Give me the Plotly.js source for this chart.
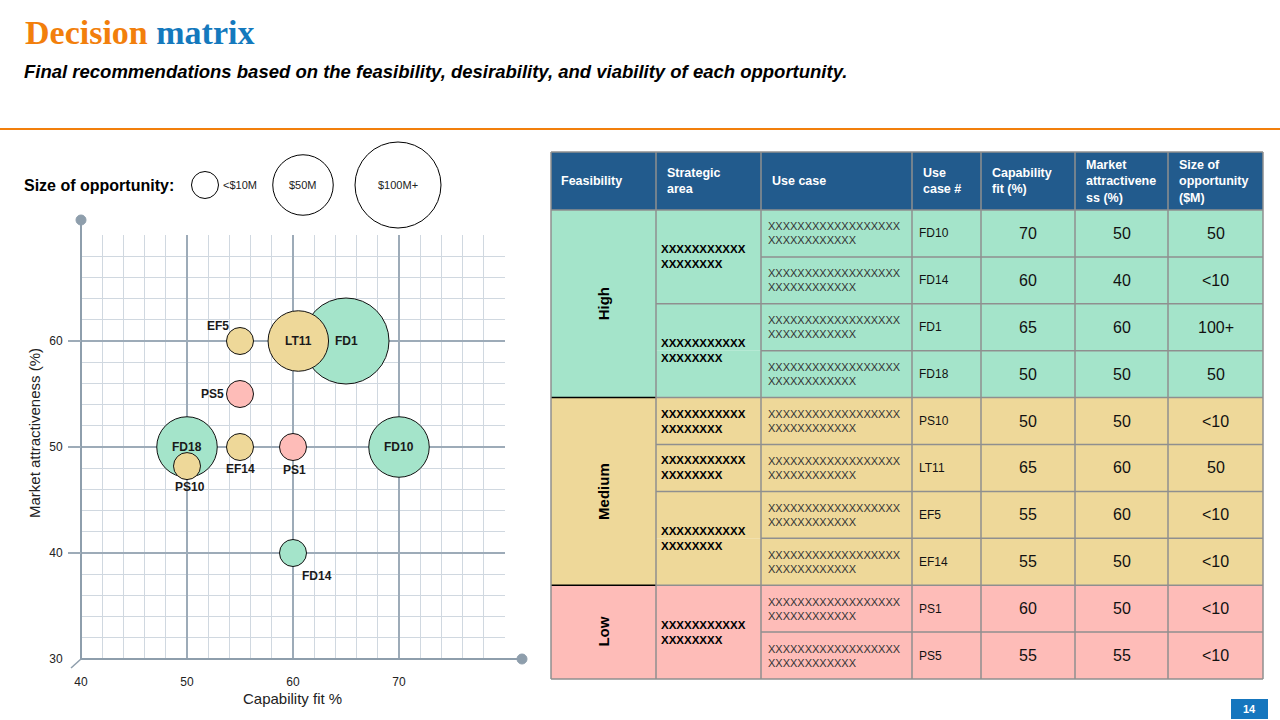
<!DOCTYPE html>
<html>
<head>
<meta charset="utf-8">
<script src="https://cdn.plot.ly/plotly-3.0.1.min.js"></script>
<style>
html,body{margin:0;padding:0;background:#fff;}
#chart{width:1280px;height:720px;}
</style>
</head>
<body>
<div id="chart"></div>
<script>
// ---------------- Bubble chart data (as plotted) ----------------
const bubbleIds         = ['FD1','LT11','FD18','PS10','FD10','EF5','PS5','EF14','PS1','FD14'];
const bubbleCapability  = [65, 60.5, 50, 50, 70, 55, 55, 55, 60, 60];
const bubbleMarket      = [60, 60, 50, 48.2, 50, 60, 55, 50, 50, 40];
const bubbleOpportunity = [100, 50, 50, 10, 50, 10, 10, 10, 10, 10];
const bubbleFeasibility = ['High','Medium','High','Medium','High','Medium','Low','Medium','Low','High'];

const xTickVals = [40, 50, 60, 70];
const yTickVals = [30, 40, 50, 60];

// ---------------- Size legend ----------------
const legendLabels = ['<$10M', '$50M', '$100M+'];
const legendSizes  = [10, 50, 100];

// ---------------- Table data ----------------
const tableHeaders = ['Feasibility', 'Strategic<br>area', 'Use case', 'Use<br>case #',
                      'Capability<br>fit (%)', 'Market<br>attractivene<br>ss (%)', 'Size of<br>opportunity<br>($M)'];
const feasibilityGroups   = ['High', 'Medium', 'Low'];
const feasibilityRowSpans = [4, 4, 2];
const strategicAreas    = ['XXXXXXXXXXX<br>XXXXXXXX','XXXXXXXXXXX<br>XXXXXXXX','XXXXXXXXXXX<br>XXXXXXXX',
                           'XXXXXXXXXXX<br>XXXXXXXX','XXXXXXXXXXX<br>XXXXXXXX','XXXXXXXXXXX<br>XXXXXXXX'];
const strategicRowSpans = [2, 2, 1, 1, 2, 2];
const useCaseTexts = Array(10).fill('XXXXXXXXXXXXXXXXXX<br>XXXXXXXXXXXX');
const useCaseIds           = ['FD10','FD14','FD1','FD18','PS10','LT11','EF5','EF14','PS1','PS5'];
const capabilityFit        = [70, 60, 65, 50, 50, 65, 55, 55, 60, 55];
const marketAttractiveness = [50, 40, 60, 50, 50, 60, 60, 50, 50, 55];
const opportunitySize      = ['50','<10','100+','50','<10','50','<10','<10','<10','<10'];

// ---------------- Styles ----------------
const FONT = 'Liberation Sans, Arial, sans-serif';
const feasColors = {High:'#A4E4CA', Medium:'#EED899', Low:'#FEBCB8'};
const sizePx = v => v >= 100 ? 86 : (v >= 50 ? 60.5 : 27);
const labelOffsets = {FD1:[0,0], LT11:[0,0], FD18:[0,0], PS10:[3,21], FD10:[0,0],
                      EF5:[-22,-15], PS5:[-28,0], EF14:[0,22], PS1:[1,23], FD14:[24,23]};
const axisColor = '#8E9EAC', majorGrid = '#9DABB8', minorGrid = '#D0D8E0';
const cellLine = '#8F8F8F';

const P = x => x / 1280, Q = y => 1 - y / 720;
const shapes = [], annotations = [];

function rect(x0, y0, x1, y1, fill) {
  shapes.push({type:'rect', xref:'paper', yref:'paper', x0:P(x0), x1:P(x1), y0:Q(y1), y1:Q(y0),
               fillcolor:fill, line:{width:0}, layer:'below'});
}
function line(x0, y0, x1, y1, color, w) {
  shapes.push({type:'line', xref:'paper', yref:'paper', x0:P(x0), x1:P(x1), y0:Q(y0), y1:Q(y1),
               line:{color:color, width:w}});
}
function circle(cx, cy, d, fill, lc) {
  shapes.push({type:'circle', xref:'paper', yref:'paper', x0:P(cx - d/2), x1:P(cx + d/2),
               y0:Q(cy + d/2), y1:Q(cy - d/2), fillcolor:fill, line:{color:lc, width:1}});
}
function label(x, y, t, font, o) {
  annotations.push(Object.assign({xref:'paper', yref:'paper', x:P(x), y:Q(y), text:t, showarrow:false,
    xanchor:'left', yanchor:'middle', align:'left', borderpad:0,
    font:Object.assign({family:FONT, size:12, color:'#111'}, font)}, o || {}));
}

// ---------------- Header ----------------
label(24, 33, 'Decision <span style="color:#1479BD">matrix</span>',
      {family:'Liberation Serif, Times New Roman, serif', size:34, color:'#F27F0C', weight:700});
label(23, 72, 'Final recommendations based on the feasibility, desirability, and viability of each opportunity.',
      {size:18.5, weight:700, style:'italic', color:'#000'});
line(0, 129, 1280, 129, '#F27F0C', 2);

// ---------------- Size legend ----------------
label(23, 186, 'Size of opportunity:', {size:16, weight:700, color:'#000'});
const legendCx = [205, 303, 398];
legendSizes.forEach((s, i) => {
  circle(legendCx[i], 185, sizePx(s), 'rgba(0,0,0,0)', '#000');
  if (i === 0) label(222, 185, legendLabels[i], {size:11, color:'#222'});
  else label(legendCx[i], 185, legendLabels[i], {size:11, color:'#222'}, {xanchor:'center'});
});

// ---------------- Chart decorations ----------------
line(81, 659, 81, 220, axisColor, 2);
line(81, 659, 522, 659, axisColor, 2);
line(81, 659, 71, 668, axisColor, 1.5);
circle(81, 220, 10, axisColor, axisColor);
circle(522, 659, 10, axisColor, axisColor);
yTickVals.slice(1).forEach(v => {
  shapes.push({type:'line', xref:'paper', yref:'y', x0:P(68), x1:P(81), y0:v, y1:v,
               line:{color:majorGrid, width:2}});
});
label(292, 698, 'Capability fit %', {size:15, color:'#222'}, {xanchor:'center'});
label(34, 433, 'Market attractiveness (%)', {size:15, color:'#222'}, {xanchor:'center', textangle:-90});

// bubble labels
bubbleIds.forEach((id, i) => {
  const o = labelOffsets[id];
  annotations.push({xref:'x', yref:'y', x:bubbleCapability[i], y:bubbleMarket[i], text:id,
    showarrow:false, xshift:o[0], yshift:-o[1],
    font:{family:FONT, size:12, color:'#1a1a1a', weight:700}});
});

// ---------------- Table ----------------
const colX = [551, 656, 761, 912, 981, 1075, 1168, 1263];
const headTop = 152, headBot = 210, rowH = 46.9;
const nRows = useCaseIds.length;
const rowTop = i => headBot + i * rowH;

rect(colX[0], headTop, colX[7], headBot, '#225B8D');
const rowFeas = [];
feasibilityGroups.forEach((g, gi) => { for (let k = 0; k < feasibilityRowSpans[gi]; k++) rowFeas.push(g); });
for (let i = 0; i < nRows; i++) rect(colX[1], rowTop(i), colX[7], rowTop(i + 1), feasColors[rowFeas[i]]);

// feasibility column
let r = 0;
const feasBounds = [];
feasibilityGroups.forEach((g, gi) => {
  const y0 = rowTop(r), y1 = rowTop(r + feasibilityRowSpans[gi]);
  rect(colX[0], y0, colX[1], y1, feasColors[g]);
  label((colX[0] + colX[1]) / 2, (y0 + y1) / 2, g, {size:15, weight:700, color:'#000'},
        {xanchor:'center', textangle:-90});
  r += feasibilityRowSpans[gi];
  feasBounds.push(r);
});

// strategic column
r = 0;
const stratBounds = [];
strategicAreas.forEach((s, si) => {
  const y0 = rowTop(r), y1 = rowTop(r + strategicRowSpans[si]);
  label(colX[1] + 4, (y0 + y1) / 2, s, {size:11.5, weight:700, color:'#000'});
  r += strategicRowSpans[si];
  stratBounds.push(r);
});

// row cells
for (let i = 0; i < nRows; i++) {
  const cy = (rowTop(i) + rowTop(i + 1)) / 2;
  label(colX[2] + 6, cy, useCaseTexts[i], {size:11, color:'#333'});
  label(colX[3] + 6, cy, useCaseIds[i], {size:12, color:'#111'});
  label((colX[4] + colX[5]) / 2, cy, String(capabilityFit[i]), {size:16, color:'#111'}, {xanchor:'center'});
  label((colX[5] + colX[6]) / 2, cy, String(marketAttractiveness[i]), {size:16, color:'#111'}, {xanchor:'center'});
  label((colX[6] + colX[7]) / 2, cy, opportunitySize[i], {size:16, color:'#111'}, {xanchor:'center'});
}

// header labels
tableHeaders.forEach((h, i) => {
  label(colX[i] + (i === 0 ? 9 : 10), (headTop + headBot) / 2, h, {size:12.5, weight:700, color:'#fff'});
});

// grid lines of table
for (let i = 1; i < nRows; i++) {
  const y = rowTop(i);
  line(colX[2], y, colX[7], y, cellLine, 1.5);
  if (stratBounds.includes(i)) line(colX[1], y, colX[2], y, cellLine, 1.5);
}
for (let i = 1; i < nRows; i++) {
  if (feasBounds.includes(i)) line(colX[0], rowTop(i), colX[1], rowTop(i), '#000', 1.5);
}
line(colX[0], headBot, colX[7], headBot, cellLine, 1.5);
line(colX[0], headTop, colX[7], headTop, cellLine, 1.5);
line(colX[0], rowTop(nRows), colX[7], rowTop(nRows), cellLine, 1.5);
colX.forEach(x => line(x, headTop, x, rowTop(nRows), cellLine, 1.5));

// page number
rect(1231, 699, 1268, 719, '#1576BE');
label(1249.5, 709, '14', {size:11, weight:700, color:'#fff'}, {xanchor:'center'});

// ---------------- Traces ----------------
const bubbles = {
  type:'scatter', mode:'markers',
  x:bubbleCapability, y:bubbleMarket,
  marker:{
    size:bubbleOpportunity.map(sizePx), sizemode:'diameter',
    color:bubbleFeasibility.map(f => feasColors[f]), opacity:1,
    line:{color:'#111', width:1}
  },
  hoverinfo:'skip', cliponaxis:false
};

const layout = {
  width:1280, height:720, autosize:false,
  margin:{l:0, r:0, t:0, b:0},
  paper_bgcolor:'#fff', plot_bgcolor:'rgba(0,0,0,0)',
  showlegend:false, hovermode:false,
  xaxis:{
    domain:[P(81), P(505)], range:[40, 80], tickvals:xTickVals,
    showgrid:true, gridcolor:majorGrid, gridwidth:2, zeroline:false, showline:false,
    ticks:'outside', ticklen:12, tickcolor:'rgba(0,0,0,0)',
    tickfont:{family:FONT, size:12, color:'#222'},
    minor:{tick0:0, dtick:2, showgrid:true, gridcolor:minorGrid, gridwidth:1, ticks:''},
    fixedrange:true
  },
  yaxis:{
    domain:[Q(659), Q(235)], range:[30, 70], tickvals:yTickVals,
    showgrid:true, gridcolor:majorGrid, gridwidth:2, zeroline:false, showline:false,
    ticks:'outside', ticklen:15, tickcolor:'rgba(0,0,0,0)',
    tickfont:{family:FONT, size:12, color:'#222'},
    minor:{tick0:0, dtick:2, showgrid:true, gridcolor:minorGrid, gridwidth:1, ticks:''},
    fixedrange:true
  },
  shapes:shapes,
  annotations:annotations
};

Plotly.newPlot('chart', [bubbles], layout, {displayModeBar:false, staticPlot:true});
</script>
</body>
</html>
